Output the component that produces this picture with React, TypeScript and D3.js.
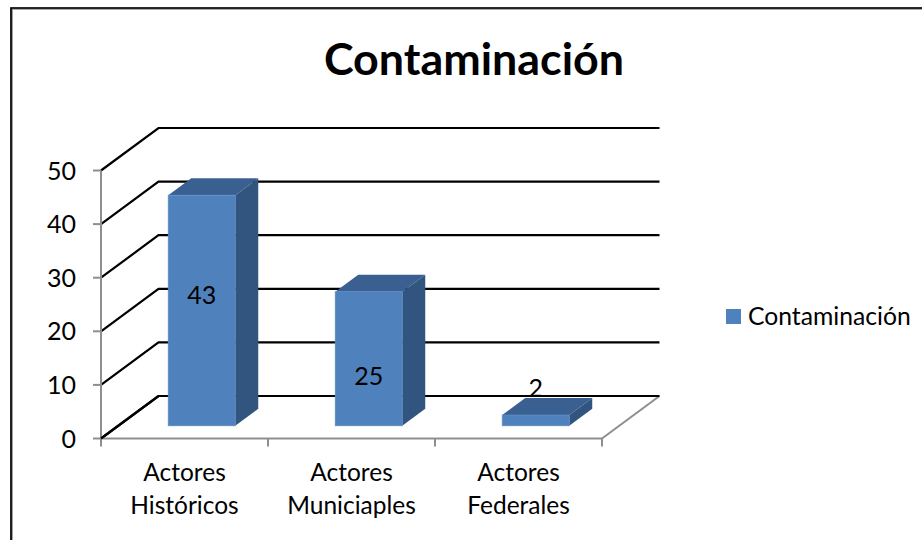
import React from "react";
import * as d3 from "d3";

const categories = ["Actores Históricos", "Actores Municiaples", "Actores Federales"];
const categoryLines = [["Actores", "Históricos"], ["Actores", "Municiaples"], ["Actores", "Federales"]];
const values = [43, 25, 2];
const yTicks = [0, 10, 20, 30, 40, 50];
const seriesName = "Contaminación";

const FONT = "Lato, Carlito, 'Open Sans', sans-serif";
const x = d3.scaleBand<string>().domain(categories).range([101, 602]);
const y = d3.scaleLinear().domain([0, 50]).range([438.5, 170.5]);
// depth projection: 0 = front of floor, 1 = back wall
const dx = d3.scaleLinear().domain([0, 1]).range([0, 57.5]);
const dy = d3.scaleLinear().domain([0, 1]).range([0, -42.5]);
const barFront = 0.3;
const barBack = 0.7;
const barWidth = 67;

const line = d3.line<[number, number]>();
const poly = (p: [number, number][]) => line(p) + "Z";

export default function App() {
  const x0 = x.range()[0];
  const x1 = x.range()[1];
  return (
    <svg width={922} height={540} style={{ position: "absolute", left: 0, top: 0, background: "#fff" }}>
      {/* chart frame */}
      <path d="M11.5,540V8.5H922" fill="none" stroke="#8c8c8c" strokeWidth={2.6} />
      <path d="M11,540V8H922" fill="none" stroke="#000" strokeWidth={1.6} />

      <text x={474} y={75} textAnchor="middle" fontFamily={FONT} fontWeight={700} fontSize={44.8} fill="#000">{seriesName}</text>

      {/* floor */}
      <path
        d={line([[x1, y(0)], [x1 + dx(1), y(0) + dy(1)]])!}
        fill="none" stroke="#8e8e8e" strokeWidth={2}
      />
      {/* walls */}
      {yTicks.map((t) => (
        <path
          key={t}
          d={line([[x0, y(t)], [x0 + dx(1), y(t) + dy(1)], [x1 + dx(1), y(t) + dy(1)]])!}
          fill="none" stroke="#000" strokeWidth={2.2}
        />
      ))}

      {/* axes */}
      <path d={line([[x0, y(50)], [x0, y(0)], [x1, y(0)]])!} fill="none" stroke="#8e8e8e" strokeWidth={2} />
      {yTicks.map((t) => (
        <path key={t} d={line([[x0 - 8, y(t)], [x0, y(t)]])!} stroke="#8e8e8e" strokeWidth={2} fill="none" />
      ))}
      {[...categories.map((c) => x(c)!), x1].map((px, i) => (
        <path key={i} d={line([[px, y(0)], [px, y(0) + 8]])!} stroke="#8e8e8e" strokeWidth={2} fill="none" />
      ))}
      <path d={line([[x0, y(0)], [x0 + dx(1), y(0) + dy(1)]])!} fill="none" stroke="#000" strokeWidth={2.2} />

      {yTicks.map((t) => (
        <text key={t} x={76} y={y(t) + 9} textAnchor="end" fontFamily={FONT} fontSize={25} fill="#000">{t}</text>
      ))}
      {categories.map((c, i) => (
        <text key={c} textAnchor="middle" fontFamily={FONT} fontSize={24.5} fill="#000">
          {categoryLines[i].map((l, j) => (
            <tspan key={j} x={x(c)! + x.bandwidth() / 2} y={481 + j * 33}>{l}</tspan>
          ))}
        </text>
      ))}

      {/* bars */}
      {categories.map((c, i) => {
        const left = x(c)! + (x.bandwidth() - barWidth) / 2 + dx(barFront);
        const right = left + barWidth;
        const bottom = y(0) + dy(barFront);
        const top = bottom - (y(0) - y(values[i]));
        const ox = dx(barBack) - dx(barFront);
        const oy = dy(barBack) - dy(barFront);
        return (
          <g key={c}>
            <path d={poly([[left, top], [right, top], [right + ox, top + oy], [left + ox, top + oy]])} fill="#3a6091" />
            <path d={poly([[right, top], [right + ox, top + oy], [right + ox, bottom + oy], [right, bottom]])} fill="#325580" />
            <rect x={left} y={top} width={barWidth} height={bottom - top} fill="#4f81bd" stroke="#5d8cc4" strokeWidth={0.8} />
          </g>
        );
      })}

      {/* data labels */}
      {categories.map((c, i) => {
        const cx = x(c)! + x.bandwidth() / 2 + dx(barFront);
        const ly = i === 2 ? 397 : y(0) + dy(barFront) - (y(0) - y(values[i])) / 2 + 3 + (i === 1 ? 23 : 0) - (i === 0 ? 10 : 0);
        return (
          <text key={c} x={cx} y={ly} textAnchor="middle" fontFamily={FONT} fontSize={25} fill="#000">{values[i]}</text>
        );
      })}

      {/* legend */}
      <rect x={726} y={309} width={15} height={15} fill="#4f81bd" />
      <text x={748} y={325} fontFamily={FONT} fontSize={24.7} fill="#000">{seriesName}</text>
    </svg>
  );
}
